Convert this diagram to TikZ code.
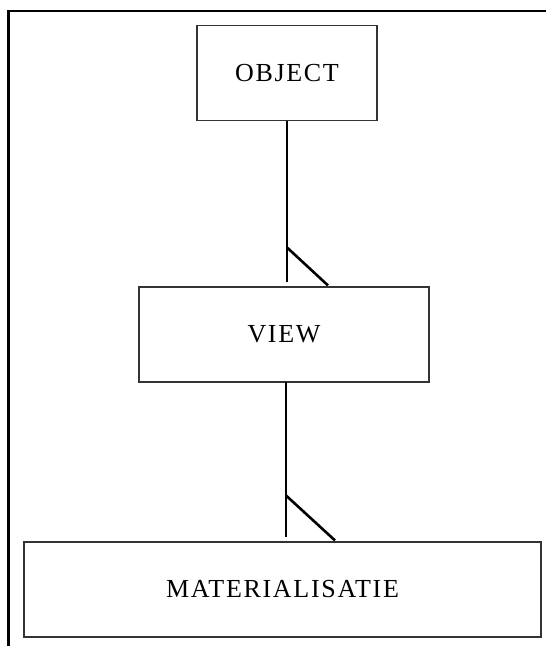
\documentclass[tikz,border=0pt]{standalone}
\usepackage{fontspec}
\setmainfont{Liberation Serif}[LetterSpace=6.5]
\usetikzlibrary{calc}
\tikzset{
  entity/.style={draw=black!80, line width=1.1pt, rectangle, inner sep=0pt,
    minimum height=95pt, font=\fontsize{26}{30}\selectfont},
  conn/.style={draw=black, line width=2.6pt},
  frameline/.style={draw=black, line width=2.4pt, line join=miter}
}
\begin{document}
\begin{tikzpicture}[x=1pt, y=-1pt]
  \useasboundingbox (0,0) rectangle (546,646);
  % page frame: top and left edges
  \draw[frameline] (546,11) -- (8.5,11) -- (8.5,646);

  % entities
  \node[entity, minimum width=180pt] (obj) at (287,73) {OBJECT};
  \node[entity, minimum width=290pt] (view) at (284,334.5) {VIEW};
  \node[entity, minimum width=517pt] (mat) at (282.5,589.5) {MATERIALISATIE};

  % OBJECT -- VIEW relation with many-side mark
  \draw[conn] (obj.south) -- ([yshift=4pt]obj.south |- view.north);
  \draw[conn] ([yshift=39pt]obj.south |- view.north) -- ([xshift=41pt,yshift=1pt]obj.south |- view.north);

  % VIEW -- MATERIALISATIE relation with many-side mark
  \coordinate (vb) at (286,382);
  \draw[conn] (vb) -- ([yshift=4pt]vb |- mat.north);
  \draw[conn] ([yshift=46pt]vb |- mat.north) -- ([xshift=49pt,yshift=1pt]vb |- mat.north);
\end{tikzpicture}
\end{document}
